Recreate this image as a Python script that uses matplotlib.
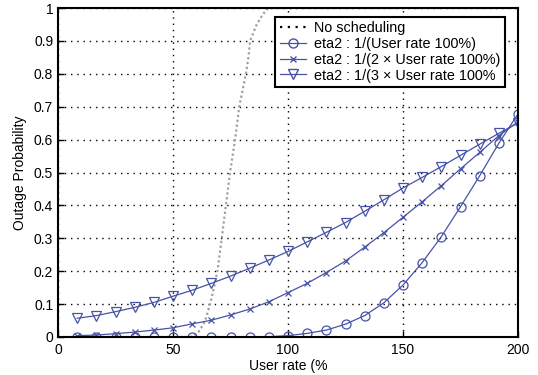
import matplotlib
matplotlib.use("Agg")
import matplotlib.pyplot as plt
from matplotlib.lines import Line2D

plt.rcParams['font.family'] = ['Liberation Sans', 'DejaVu Sans']

user_rate = [8.33, 16.67, 25.0, 33.33, 41.67, 50.0, 58.33, 66.67, 75.0, 83.33, 91.67, 100.0,
             108.33, 116.67, 125.0, 133.33, 141.67, 150.0, 158.33, 166.67, 175.0, 183.33, 191.67, 200.0]
eta_1x = [0, 0, 0, 0, 0, 0, 0, 0, 0, 0.0005, 0.001, 0.004, 0.011, 0.021, 0.039, 0.065,
          0.104, 0.158, 0.226, 0.305, 0.396, 0.49, 0.589, 0.678]
eta_2x = [0.004, 0.006, 0.01, 0.015, 0.021, 0.028, 0.04, 0.051, 0.067, 0.085, 0.107, 0.135,
          0.163, 0.196, 0.231, 0.273, 0.317, 0.364, 0.411, 0.46, 0.511, 0.561, 0.612, 0.654]
eta_3x = [0.057, 0.065, 0.077, 0.09, 0.105, 0.124, 0.142, 0.163, 0.185, 0.209, 0.234, 0.26,
          0.289, 0.318, 0.348, 0.382, 0.417, 0.453, 0.485, 0.518, 0.552, 0.586, 0.619, 0.651]

nosched_x = [0, 57, 58.8, 61.7, 64, 66.1, 67.8, 69.3, 71.2, 73, 74.8, 77, 78.8, 81.7, 82.8,
             83.5, 86.4, 89, 91.4, 200]
nosched_y = [0, 0, 0.002, 0.02, 0.05, 0.1, 0.15, 0.2, 0.3, 0.4, 0.5, 0.6, 0.7, 0.8, 0.85,
             0.9, 0.95, 0.98, 1.0, 1.0]

labels = ["No scheduling", "eta2 : 1/(User rate 100%)",
          "eta2 : 1/(2 \u00d7 User rate 100%)", "eta2 : 1/(3 \u00d7 User rate 100%"]

blue = '#4653a6'
fs = 10
lfs = 10.4

fig = plt.figure(figsize=(5.38, 3.75), dpi=100)
ax = fig.add_axes([58/538, 1-337/375, 460/538, 329/375])

ax.plot(nosched_x, nosched_y, color='#a0a0a0', lw=1.6, linestyle=(0, (1, 1.2)))
ax.plot(user_rate, eta_1x, color=blue, lw=0.9, marker='o', ms=6.5, mfc='none', mec=blue, mew=0.9)
ax.plot(user_rate, eta_2x, color=blue, lw=0.9, marker='x', ms=4.5, mec=blue, mew=0.9)
ax.plot(user_rate, eta_3x, color=blue, lw=0.9, marker='v', ms=7, mfc='none', mec=blue, mew=0.9)

ax.set_xlim(0, 200)
ax.set_ylim(0, 1)
ax.set_xticks([0, 50, 100, 150, 200])
ax.set_yticks([0, 0.1, 0.2, 0.3, 0.4, 0.5, 0.6, 0.7, 0.8, 0.9, 1])
ax.set_yticklabels(['0', '0.1', '0.2', '0.3', '0.4', '0.5', '0.6', '0.7', '0.8', '0.9', '1'])
ax.grid(True, color='black', lw=1.0, linestyle=(0, (1, 3.5)))
ax.set_axisbelow(True)
for s in ax.spines.values():
    s.set_linewidth(1.5)
ax.tick_params(direction='in', length=4, width=1, labelsize=fs, pad=4, colors='black')
ax.tick_params(axis='y', pad=3.5)

ax.set_xlabel("User rate (%", fontsize=fs, labelpad=2)
ax.set_ylabel("Outage Probability", fontsize=fs, labelpad=5)

handles = [
    Line2D([], [], color='black', lw=1.6, linestyle=(0, (1, 2.5))),
    Line2D([], [], color=blue, lw=0.9, marker='o', ms=6.5, mfc='none', mec=blue),
    Line2D([], [], color=blue, lw=0.9, marker='x', ms=4.5, mec=blue),
    Line2D([], [], color=blue, lw=0.9, marker='v', ms=7, mfc='none', mec=blue),
]
leg = ax.legend(handles, labels, loc='upper right', bbox_to_anchor=(447/460, 320/329),
                borderaxespad=0, fontsize=lfs, frameon=True, fancybox=False,
                handlelength=1.8, handletextpad=0.6, labelspacing=0.12, borderpad=0.3)
leg.get_frame().set_edgecolor('black')
leg.get_frame().set_linewidth(1.5)
leg.get_frame().set_alpha(1)

fig.savefig("out.png", dpi=100)
